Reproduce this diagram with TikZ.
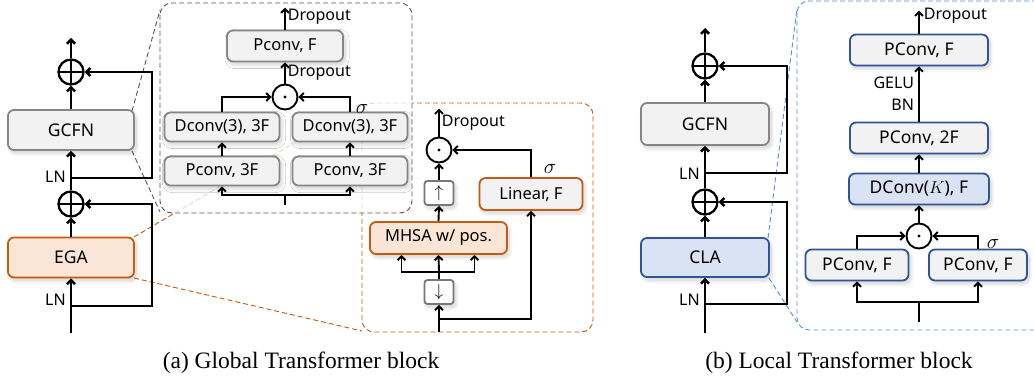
\documentclass[tikz,border=0pt]{standalone}
\usepackage{amsmath}
\usepackage{fontspec}
\setmainfont{Liberation Serif}
\newfontfamily\labelfont{Noto Sans}
\usepackage{xcolor}
\usetikzlibrary{calc, arrows.meta, positioning, shadows.blur}

\definecolor{egaorange}{HTML}{C55A11}
\definecolor{egafill}{HTML}{FBE5D6}
\definecolor{boxgray}{HTML}{868686}
\definecolor{boxfill}{HTML}{F2F2F2}
\definecolor{clablue}{HTML}{2F5597}
\definecolor{clafill}{HTML}{DAE3F3}
\definecolor{zoomblue}{HTML}{5B8FD6}
\definecolor{zoomgray}{HTML}{555555}

\tikzset{
  arr/.style={-{Straight Barb[length=4pt,width=8pt]}},
  mainline/.style={line width=2.5pt},
  thinline/.style={line width=1.9pt},
  boxshadow/.style={blur shadow={shadow xshift=2pt, shadow yshift=-3pt, shadow blur steps=20, shadow blur radius=4pt, shadow opacity=20}},
  block/.style={draw=boxgray, fill=boxfill, rounded corners=6pt, line width=1.8pt,
    minimum width=126pt, minimum height=40pt, inner sep=0pt, boxshadow,
    font=\labelfont\fontsize{17.5}{17.5}\selectfont},
  sblock/.style={block, minimum width=115pt, minimum height=29pt, font=\labelfont\fontsize{16.5}{16.5}\selectfont},
  egabox/.style={block, draw=egaorange, fill=egafill},
  clabox/.style={block, draw=clablue, fill=clafill},
  bblock/.style={block, draw=clablue, minimum width=138pt, minimum height=31pt},
  smallbox/.style={draw=zoomgray!80, fill=white, rounded corners=3pt, line width=1.8pt,
    minimum width=29pt, minimum height=24pt, inner sep=0pt, boxshadow, font=\fontsize{17}{17}\selectfont},
  addnode/.style={circle, draw, line width=2.3pt, minimum size=25pt, inner sep=0pt,
    path picture={\draw[line width=2.3pt] (path picture bounding box.north) -- (path picture bounding box.south)
      (path picture bounding box.west) -- (path picture bounding box.east);}},
  mulnode/.style={circle, draw, fill=white, line width=1.9pt, minimum size=25pt, inner sep=0pt,
    path picture={\fill[black] (path picture bounding box.center) circle (1.7pt);}},
  lbl/.style={font=\labelfont\fontsize{16}{22}\selectfont, inner sep=1pt},
  sig/.style={font=\fontsize{22}{22}\selectfont, inner sep=0pt},
  zoomline/.style={line width=0.9pt, dash pattern=on 5pt off 3pt},
  caption/.style={font=\fontsize{23.5}{23.5}\selectfont, inner sep=0pt}
}

\begin{document}
\begin{tikzpicture}[x=1pt, y=-1pt]
    \useasboundingbox (0,0) rectangle (1034,379);

    % Zoom frame of EGA (drawn first, partly behind the GCFN frame)
    \draw[zoomline, egaorange, rounded corners=12pt] (362,103) rectangle (593,332);
    \draw[zoomline, egaorange] (134,237) -- (362,103);
    \draw[zoomline, egaorange] (134,278) -- (362,331);

    % Zoom frame of GCFN
    \draw[zoomline, zoomgray, fill=white, fill opacity=0.75, rounded corners=12pt] (160,3) rectangle (412,213);
    \draw[zoomline, zoomgray] (132,111) -- (160,10);
    \draw[zoomline, zoomgray] (132,151) -- (160,212);

    % Global Transformer block
    \node[egabox] (ega) at (71,257.5) {EGA};
    \node[block] (gcfna) at (71,130) {GCFN};
    \node[addnode] (adda1) at (71,204) {};
    \node[addnode] (adda2) at (71,72) {};
    \coordinate (ina) at (71,333);
    \coordinate (outa) at (71,38);
    \coordinate (skipa1) at (71,306);
    \coordinate (skipa2) at (71,178);

    \draw[mainline, arr] (ina) -- (ega.south) node[lbl, pos=0.6, left=3pt] {LN};
    \draw[mainline, arr] (ega.north) -- (adda1.south);
    \draw[mainline, arr] (adda1.north) -- (gcfna.south) node[lbl, pos=0.35, left=3pt] {LN};
    \draw[mainline, arr] (gcfna.north) -- (adda2.south);
    \draw[mainline, arr] (adda2.north) -- (outa);
    \draw[mainline, arr] (skipa1) -- ++(81,0) |- (adda1.east);
    \draw[mainline, arr] (skipa2) -- ++(81,0) |- (adda2.east);

    % GCFN details
    \node[sblock, minimum width=116pt, minimum height=31pt] (pconvf) at (285,46) {Pconv, F};
    \node[mulnode] (mula) at (285,97) {};
    \node[sblock] (dconvl) at (222,127) {Dconv(3), 3F};
    \node[sblock] (dconvr) at (350,127) {Dconv(3), 3F};
    \node[sblock] (pconvl) at (222,171) {Pconv, 3F};
    \node[sblock] (pconvr) at (350,171) {Pconv, 3F};
    \coordinate (ing) at (285,205);
    \coordinate (splitg) at (285,195);

    \draw[thinline, arr] (pconvf.north) -- ++(0,-22) node[lbl, pos=0.6, right=1pt] {Dropout};
    \draw[thinline, arr] (mula.north) -- (pconvf.south) node[lbl, pos=0.5, right=1pt] {Dropout};
    \draw[thinline, arr] (dconvl.north) |- (mula.west);
    \draw[thinline, arr] (dconvr.north) |- (mula.east) node[sig, pos=0, anchor=south west, xshift=5pt, yshift=-3pt] {$\sigma$};
    \draw[thinline, arr] (pconvl.north) -- (dconvl.south);
    \draw[thinline, arr] (pconvr.north) -- (dconvr.south);
    \draw[thinline] (ing) -- (splitg);
    \draw[thinline, arr] (splitg) -| (pconvl.south);
    \draw[thinline, arr] (splitg) -| (pconvr.south);

    % EGA details
    \node[mulnode] (mulb) at (439,150) {};
    \node[smallbox] (upbox) at (439,193) {$\uparrow$};
    \node[egabox, minimum width=137pt, minimum height=32pt, font=\labelfont\fontsize{16.5}{16.5}\selectfont] (mhsa) at (438.5,238) {MHSA w/ pos.};
    \node[smallbox] (downbox) at (439,292) {$\downarrow$};
    \node[sblock, draw=egaorange, minimum width=103pt, minimum height=32pt] (linear) at (531,194) {Linear, F};
    \coordinate (inb) at (439,332);
    \coordinate (splitb) at (439,319);
    \coordinate (fanb) at (439,272);

    \draw[thinline, arr] (mulb.north) -- ++(0,-28) node[lbl, pos=0.5, right=1pt] {Dropout};
    \draw[thinline, arr] (upbox.north) -- (mulb.south);
    \draw[thinline, arr] (mhsa.north) -- (upbox.south);
    \draw[thinline, arr] (linear.north) |- (mulb.east) node[sig, pos=0, anchor=south west, xshift=12pt, yshift=3pt] {$\sigma$};
    \draw[thinline, arr] (inb) -- (downbox.south);
    \draw[thinline, arr] (splitb) -| (linear.south);
    \draw[thinline] (downbox.north) -- (fanb);
    \draw[thinline, arr] (fanb) -- (mhsa.south);
    \draw[thinline, arr] (fanb) -| ([xshift=-37pt]mhsa.south);
    \draw[thinline, arr] (fanb) -| ([xshift=36pt]mhsa.south);

    % Zoom frame of CLA
    \draw[zoomline, zoomblue, rounded corners=12pt] (797,1) rectangle (1050,330);
    \draw[zoomline, zoomblue] (768,238) -- (797,8);
    \draw[zoomline, zoomblue] (769,278) -- (797,322);

    % Local Transformer block
    \node[clabox, minimum width=128pt, minimum height=39pt] (cla) at (705,257.5) {CLA};
    \node[block, minimum width=128pt, minimum height=42pt] (gcfnb) at (705,124) {GCFN};
    \node[addnode] (addb1) at (705,202) {};
    \node[addnode] (addb2) at (705,66) {};
    \coordinate (inc) at (705,333);
    \coordinate (outc) at (705,28);
    \coordinate (skipb1) at (705,304);
    \coordinate (skipb2) at (705,173);

    \draw[mainline, arr] (inc) -- (cla.south) node[lbl, pos=0.6, left=3pt] {LN};
    \draw[mainline, arr] (cla.north) -- (addb1.south);
    \draw[mainline, arr] (addb1.north) -- (gcfnb.south) node[lbl, pos=0.35, left=3pt] {LN};
    \draw[mainline, arr] (gcfnb.north) -- (addb2.south);
    \draw[mainline, arr] (addb2.north) -- (outc);
    \draw[mainline, arr] (skipb1) -- ++(82,0) |- (addb1.east);
    \draw[mainline, arr] (skipb2) -- ++(82,0) |- (addb2.east);

    % CLA details
    \node[bblock] (pconvtop) at (919,50) {PConv, F};
    \node[bblock] (pconvtwo) at (919,138) {PConv, 2F};
    \node[bblock, fill=clafill, minimum width=140pt] (dconvk) at (919,189) {DConv($K$), F};
    \node[mulnode] (mulc) at (919,236) {};
    \node[bblock, minimum width=103pt] (pconvbl) at (857,265) {PConv, F};
    \node[bblock, minimum width=98pt] (pconvbr) at (978,265) {PConv, F};
    \coordinate (incc) at (919,322);
    \coordinate (splitc) at (919,302);

    \draw[thinline, arr] (pconvtop.north) -- ++(0,-23) node[lbl, pos=0.78, right=3pt] {Dropout};
    \draw[thinline, arr] (pconvtwo.north) -- (pconvtop.south) node[lbl, pos=0.5, left=3pt, align=right] {GELU\\BN};
    \draw[thinline, arr] (dconvk.north) -- (pconvtwo.south);
    \draw[thinline, arr] (mulc.north) -- (dconvk.south);
    \draw[thinline, arr] (pconvbl.north) |- (mulc.west);
    \draw[thinline, arr] (pconvbr.north) |- (mulc.east) node[sig, pos=0, anchor=south west, xshift=8pt, yshift=-1pt] {$\sigma$};
    \draw[thinline] (incc) -- (splitc);
    \draw[thinline, arr] (splitc) -| (pconvbl.south);
    \draw[thinline, arr] (splitc) -| (pconvbr.south);

    % Captions
    \node[caption] (capa) at (301,363) {(a) Global Transformer block};
    \node[caption] (capb) at (839,363) {(b) Local Transformer block};
\end{tikzpicture}
\end{document}
